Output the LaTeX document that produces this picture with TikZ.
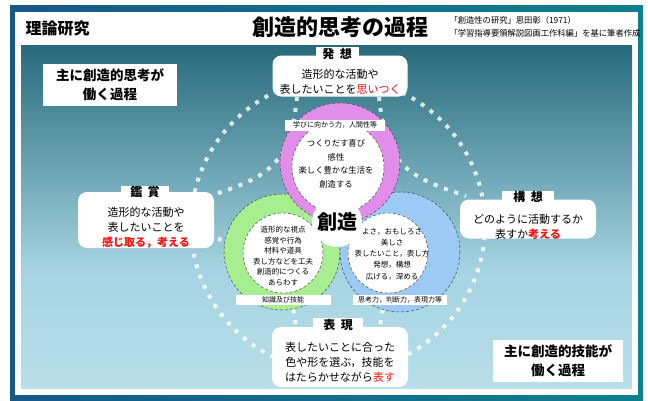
\documentclass[tikz,border=0pt]{standalone}
\usepackage{fontspec}
\setmainfont{Noto Sans CJK JP}
\definecolor{frameL}{HTML}{17588A}
\definecolor{frameR}{HTML}{0E808C}
\definecolor{panTop}{HTML}{276A7B}
\definecolor{panMid}{HTML}{A6D4E2}
\definecolor{panBot}{HTML}{B8DEE9}
\definecolor{pinkR}{HTML}{E08EEA}
\definecolor{greenR}{HTML}{A6EE90}
\definecolor{blueR}{HTML}{9CCAF4}
\definecolor{redT}{HTML}{FF1010}
\tikzset{
  dotline/.style={draw=white,draw opacity=.8,line width=4pt,dash pattern=on 4pt off 7pt},
  stagebox/.style={fill=white,rounded corners=9pt},
  tabbox/.style={fill=white,inner sep=0pt,font=\fontsize{12}{12}\selectfont\bfseries},
  ring/.style={draw=black!70,densely dashed,line width=.5pt},
  inner/.style={fill=white,draw=black!70,densely dashed,line width=.5pt},
  lbl/.style={fill=white,inner sep=0pt,font=\fontsize{7}{7}\selectfont},
  stagetxt/.style={font=\fontsize{11}{15}\selectfont,align=center},
  circtxt/.style={align=center},
  notebox/.style={fill=white,inner sep=0pt,font=\fontsize{13.5}{19}\selectfont\bfseries,align=center}
}
\begin{document}
\begin{tikzpicture}[x=1pt,y=-1pt]
\useasboundingbox (0,0) rectangle (648,400);
\fill[white] (0,0) rectangle (648,400);
\shade[left color=frameL,right color=frameR] (10,5) rectangle (643,400);
\fill[white] (15,12) rectangle (638,395);
\shade[top color=panTop,bottom color=panMid] (21,45) rectangle (632,270);
\shade[top color=panMid,bottom color=panBot] (21,270) rectangle (632,388);

% header
\node[font=\fontsize{16}{16}\selectfont\bfseries,anchor=west] (ronbun) at (22,28) {理論研究};
\node[font=\fontsize{22}{22}\selectfont\bfseries] (title) at (340,27) {創造的思考の過程};
\node[font=\fontsize{8.3}{13}\selectfont,align=left,anchor=west] (cite) at (446,27) {「創造性の研究」恩田彰（1971）\\「学習指導要領解説図画工作科編」を基に筆者作成};

% dotted rings and arcs
\coordinate (ctr) at (338,225);
\draw[dotline] (ctr) circle (147);
\draw[dotline] (297,97) .. controls (290,165) and (270,176) .. (210,196);
\draw[dotline] (379,97) .. controls (386,165) and (406,176) .. (466,196);
\draw[dotline] (297,335) .. controls (290,267) and (270,256) .. (210,236);
\draw[dotline] (379,335) .. controls (386,267) and (406,256) .. (466,236);

% circles
\fill[greenR] (282,252) circle (58);
\draw[ring] (282,252) circle (58);
\fill[blueR] (400,252) circle (60);
\draw[ring] (400,252) circle (60);
\fill[pinkR] (340,163) circle (60);
\draw[ring] (340,163) circle (60);
\node[inner,circle,minimum size=80pt,inner sep=0pt] (gin) at (283,253) {};
\node[inner,circle,minimum size=80pt,inner sep=0pt] (bin) at (388,253) {};
\node[inner,circle,minimum size=92pt,inner sep=0pt] (pin) at (338,167) {};

\node[circtxt,font=\fontsize{8.3}{13.5}\selectfont] (ptxt) at (336,164) {つくりだす喜び\\感性\\楽しく豊かな生活を\\創造する};
\node[circtxt,font=\fontsize{7.5}{10.5}\selectfont] (gtxt) at (283,256) {造形的な視点\\感覚や行為\\材料や道具\\表し方などを工夫\\創造的につくる\\あらわす};
\node[circtxt,font=\fontsize{7.5}{11.2}\selectfont] (btxt) at (392,254) {よさ，おもしろさ\\美しさ\\表したいこと，表し方\\発想，構想\\広げる，深める};

\node[lbl,minimum width=100pt,minimum height=11pt] (plbl) at (335,125) {学びに向かう力，人間性等};
\node[lbl,minimum width=95pt,minimum height=10pt] (glbl) at (283,300) {知識及び技能};
\node[lbl,minimum width=94pt,minimum height=10pt] (blbl) at (400,300) {思考力，判断力，表現力等};

\node[circle,fill=white,minimum size=50pt,inner sep=0pt,font=\fontsize{20}{20}\selectfont\bfseries] (sozo) at (337,222) {創造};

% stage boxes
\node[stagebox,minimum width=135pt,minimum height=41pt] (hasso) at (340,76) {};
\node[tabbox,minimum width=43pt,minimum height=14pt] (hassotab) at (337,54) {発\ \ 想};
\node[stagetxt] at (340,82) {造形的な活動や\\表したいことを\textcolor{redT}{思いつく}};

\node[stagebox,minimum width=136pt,minimum height=56pt] (kansho) at (146,220) {};
\node[tabbox,minimum width=48pt,minimum height=13pt] (kanshotab) at (145,192) {鑑\ \ 賞};
\node[stagetxt] at (146,228) {造形的な活動や\\表したいことを\\\textcolor{redT}{\bfseries 感じ取る，考える}};

\node[stagebox,minimum width=136pt,minimum height=39pt] (koso) at (528,219) {};
\node[tabbox,minimum width=52pt,minimum height=13pt] (kosotab) at (528,197) {構\ \ 想};
\node[stagetxt] at (528,227) {どのように活動するか\\表すか\textcolor{redT}{\bfseries 考える}};

\node[stagebox,minimum width=136pt,minimum height=60pt] (hyogen) at (340,357) {};
\node[tabbox,minimum width=50pt,minimum height=15pt] (hyogentab) at (338,325) {表\ \ 現};
\node[stagetxt] at (340,362) {表したいことに合った\\色や形を選ぶ，技能を\\はたらかせながら\textcolor{redT}{表す}};

% note boxes
\node[notebox,minimum width=134pt,minimum height=42pt] (note1) at (110,85) {主に創造的思考が\\働く過程};
\node[notebox,minimum width=130pt,minimum height=42pt] (note2) at (558,361) {主に創造的技能が\\働く過程};
\end{tikzpicture}
\end{document}
